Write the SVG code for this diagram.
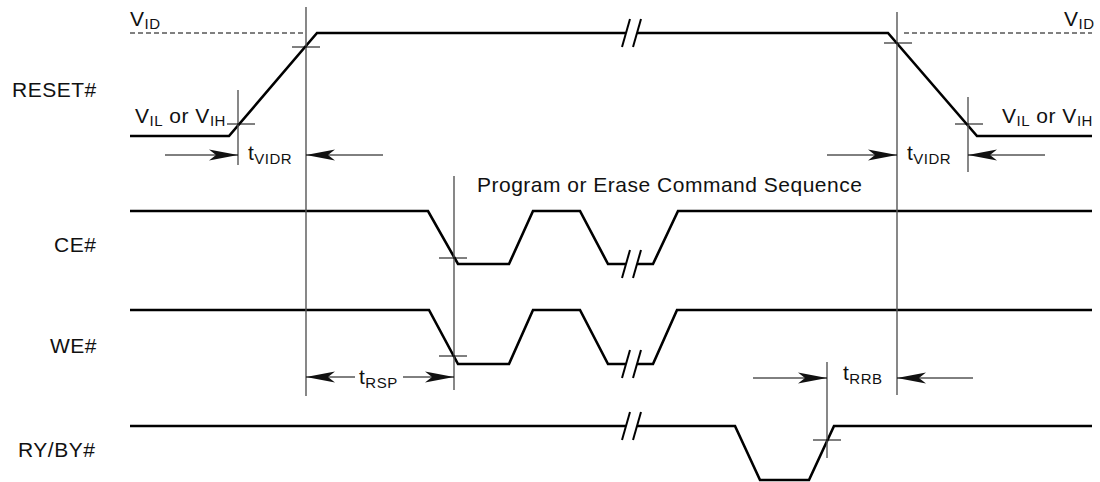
<svg xmlns="http://www.w3.org/2000/svg" width="1100" height="482" viewBox="0 0 1100 482">
<style>
text{font-family:"Liberation Sans",Arial,sans-serif;font-size:21px;letter-spacing:0.5px;fill:#111}
.s{font-size:15px;letter-spacing:0.5px}
.w{fill:none;stroke:#000;stroke-width:2.6;stroke-linejoin:miter}
.d{fill:none;stroke:#000;stroke-width:1;stroke-dasharray:5 3}
.v{stroke:#555;stroke-width:1.4}
.k{stroke:#000;stroke-width:1}
.a{stroke:#000;stroke-width:1;marker-end:url(#ah)}
.b{stroke:#000;stroke-width:2}
</style>
<defs>
<marker id="ah" viewBox="-30 -6 32 12" markerWidth="32" markerHeight="12" refX="0" refY="0" orient="auto" markerUnits="userSpaceOnUse">
<path d="M0,0 L-29,-5.5 L-22,0 L-29,5.5 Z" fill="#111"/>
</marker>
</defs>
<g id="labels">
<text x="12" y="97">RESET#</text>
<text x="54" y="252">CE#</text>
<text x="50" y="353">WE#</text>
<text x="18" y="457">RY/BY#</text>
</g>
<g id="reset">
<line class="d" x1="130" y1="33" x2="306" y2="33"/>
<line class="d" x1="904" y1="33" x2="1092" y2="33"/>
<polyline class="w" points="130,136 229,136 317,33 626,33"/>
<polyline class="w" points="637,33 888,33 977,136 1092,136"/>
<line class="b" x1="622" y1="47" x2="630" y2="19"/>
<line class="b" x1="633" y1="47" x2="641" y2="19"/>
<text x="130" y="26">V<tspan class="s" dy="3">ID</tspan></text>
<text x="1064" y="26">V<tspan class="s" dy="3">ID</tspan></text>
<text x="135" y="123">V<tspan class="s" dy="3">IL</tspan><tspan dy="-3"> or V</tspan><tspan class="s" dy="3">IH</tspan></text>
<text x="1002" y="123">V<tspan class="s" dy="3">IL</tspan><tspan dy="-3"> or V</tspan><tspan class="s" dy="3">IH</tspan></text>
</g>
<g id="ce">
<polyline class="w" points="130,211 428,211 458,264 509,264 533,211 580,211 608,264 626,264"/>
<polyline class="w" points="637,264 653,264 678,211 1092,211"/>
<line class="b" x1="622" y1="278" x2="630" y2="250"/>
<line class="b" x1="633" y1="278" x2="641" y2="250"/>
<text x="477" y="192">Program or Erase Command Sequence</text>
</g>
<g id="we">
<polyline class="w" points="130,310 429,310 458,364 509,364 533,310 580,310 608,364 626,364"/>
<polyline class="w" points="637,364 653,364 677,310 1092,310"/>
<line class="b" x1="622" y1="378" x2="630" y2="350"/>
<line class="b" x1="633" y1="378" x2="641" y2="350"/>
</g>
<g id="rybv">
<polyline class="w" points="130,426 626,426"/>
<polyline class="w" points="637,426 735,426 760,480 809,480 834,426 1092,426"/>
<line class="b" x1="622" y1="440" x2="630" y2="412"/>
<line class="b" x1="633" y1="440" x2="641" y2="412"/>
</g>
<g id="connectors">
<line class="v" x1="306" y1="7" x2="306" y2="396"/>
<line class="v" x1="238" y1="90" x2="238" y2="165"/>
<line class="v" x1="897" y1="12" x2="897" y2="395"/>
<line class="v" x1="968" y1="97" x2="968" y2="172"/>
<line class="v" x1="454" y1="176" x2="454" y2="390"/>
<line class="v" x1="827" y1="362" x2="827" y2="458"/>
<line class="k" x1="292" y1="47" x2="320" y2="47"/>
<line class="k" x1="227" y1="124" x2="255" y2="124"/>
<line class="k" x1="884" y1="43" x2="912" y2="43"/>
<line class="k" x1="955" y1="124" x2="983" y2="124"/>
<line class="k" x1="439" y1="258" x2="467" y2="258"/>
<line class="k" x1="439" y1="356" x2="467" y2="356"/>
<line class="k" x1="813" y1="440" x2="841" y2="440"/>
<line class="a" x1="165" y1="155" x2="238" y2="155"/>
<line class="a" x1="383" y1="155" x2="306" y2="155"/>
<line class="a" x1="827" y1="155" x2="897" y2="155"/>
<line class="a" x1="1045" y1="155" x2="968" y2="155"/>
<line class="a" x1="355" y1="377" x2="306" y2="377"/>
<line class="a" x1="403" y1="377" x2="454" y2="377"/>
<line class="a" x1="753" y1="378" x2="827" y2="378"/>
<line class="a" x1="973" y1="378" x2="897" y2="378"/>
<text x="248" y="160">t<tspan class="s" dy="4">VIDR</tspan></text>
<text x="907" y="160">t<tspan class="s" dy="4">VIDR</tspan></text>
<text x="359" y="384">t<tspan class="s" dy="4">RSP</tspan></text>
<text x="843" y="380">t<tspan class="s" dy="4">RRB</tspan></text>
</g>
</svg>
